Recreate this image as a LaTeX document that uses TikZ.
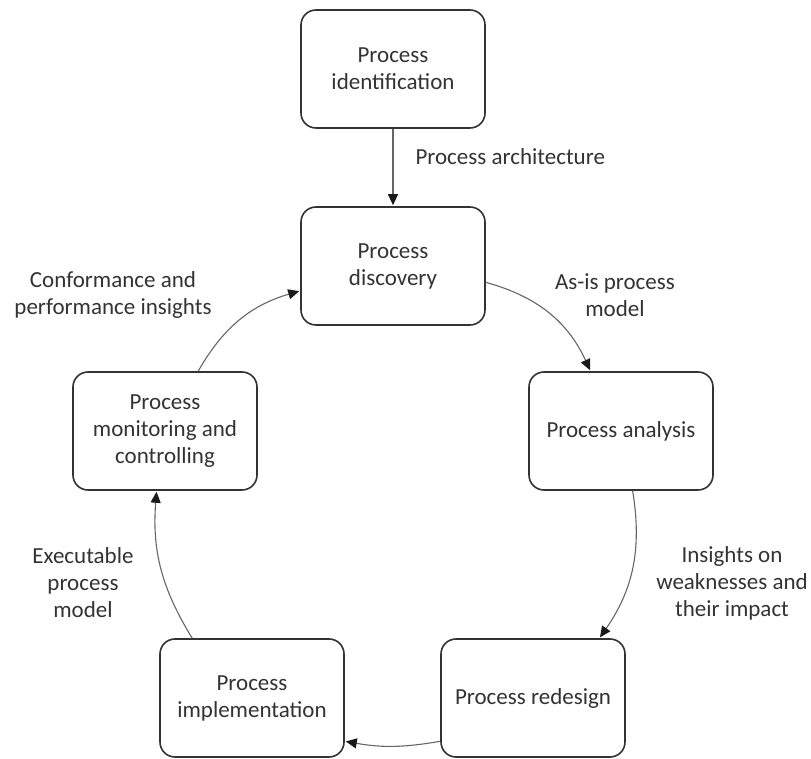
\documentclass[tikz,border=0pt]{standalone}
\usepackage{fontspec}
\setmainfont{Carlito}
\usetikzlibrary{shapes,arrows.meta}

\begin{document}
\begin{tikzpicture}[x=1pt,y=1pt,shorten >=1pt,>={Triangle[length=11pt,width=10pt,color=black!90]},font=\fontsize{23}{27}\selectfont]
\tikzstyle{phase}=[rectangle,rounded corners=15pt,draw=black!80,line width=1.6pt,minimum width=184pt,minimum height=118pt,align=center,text=black!80]
\tikzstyle{lbl}=[align=center,text=black!80]
\tikzstyle{flow}=[->,draw=black!60,line width=1.1pt]
\useasboundingbox (0,0) rectangle (811,758);

\node[phase](ident) at (393,689) {Process\\identification};
\node[phase](disc) at (393,492) {Process\\discovery};
\node[phase](anal) at (621,327) {Process analysis};
\node[phase](redes) at (533,60) {Process redesign};
\node[phase](impl) at (252,60) {Process\\implementation};
\node[phase](monit) at (165,327) {Process\\monitoring and\\controlling};

\node[lbl,anchor=west](archlbl) at (412,601) {Process architecture};
\node[lbl](asislbl) at (615,463) {As-is process\\model};
\node[lbl](weaklbl) at (732,175) {Insights on\\weaknesses and\\their impact};
\node[lbl](execlbl) at (83,175) {Executable\\process\\model};
\node[lbl](conflbl) at (113,463) {Conformance and\\performance insights};

\draw[flow] (ident) -- (disc);
\draw[flow] (disc.-10) to[bend left=25] (anal.117);
\draw[flow] (anal.-79) to[bend left=22] (redes.42);
\draw[flow] (redes.205) to[bend left=10] (impl.-25);
\draw[flow] (impl.135) to[bend left=18] (monit.-98);
\draw[flow] (monit.61) to[bend left=22] (disc.195);
\end{tikzpicture}
\end{document}
